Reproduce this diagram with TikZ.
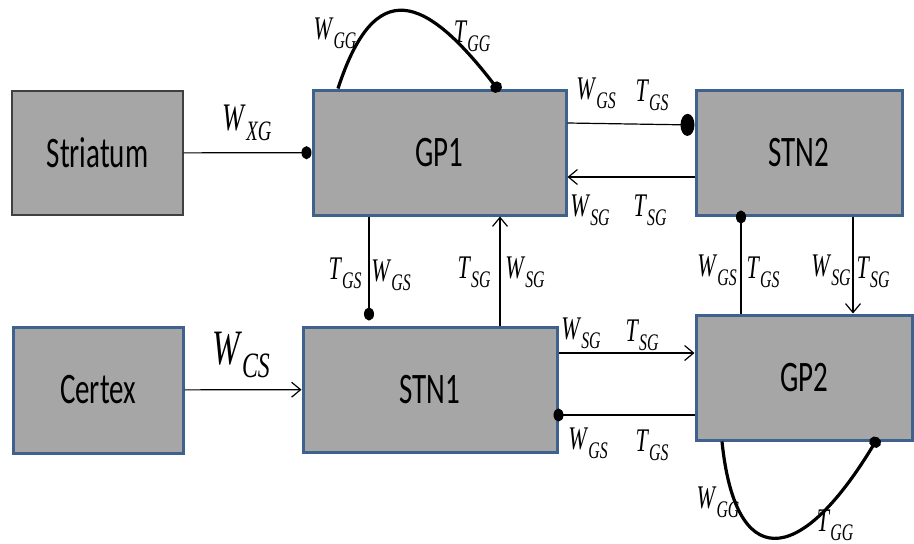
\documentclass[tikz,border=0pt]{standalone}
\usepackage{fontspec}
\setmainfont{Liberation Serif}
\newfontfamily\boxfont{Carlito}
\usetikzlibrary{arrows.meta}
\definecolor{boxgray}{RGB}{166,166,166}
\definecolor{boxblue}{RGB}{63,97,142}
\newcommand{\syn}[3][22]{\scalebox{1}[1.5]{\fontsize{#1}{#1}\selectfont\textit{#2}\raisebox{-0.27em}{\scalebox{0.72}{\textit{#3}}}}}
\newcommand{\boxtext}[1]{\scalebox{1}[1.5]{\fontsize{29}{29}\boxfont #1}}

\begin{document}
\begin{tikzpicture}[x=1pt,y=-1pt,
  area/.style={draw=boxblue,line width=3pt,fill=boxgray,inner sep=0pt},
  link/.style={line width=1.2pt},
  excite/.style={link,-{Straight Barb[length=9pt,width=15pt]}},
  inhib/.style={link,-{Ellipse[length=10pt,width=13pt]}},
  inhibup/.style={link,-{Ellipse[length=13pt,width=10pt]}},
  selfloop/.style={line width=3.2pt,-{Ellipse[length=11pt,width=12pt]}},
  lab/.style={inner sep=0pt}]
\useasboundingbox (0,0) rectangle (914,544);

\node[area,draw=black!75,line width=1.2pt,minimum width=171pt,minimum height=124pt] (striatum) at (97.5,153) {\boxtext{Striatum}};
\node[area,minimum width=253pt,minimum height=125pt] (gp1) at (439.5,152.5) {\boxtext{GP1}};
\node[area,minimum width=206pt,minimum height=125pt] (stn2) at (799,152.5) {\boxtext{STN2}};
\node[area,minimum width=170pt,minimum height=126pt] (certex) at (98,390) {\boxtext{Certex}};
\node[area,minimum width=254pt,minimum height=125pt] (stn1) at (430,389.5) {\boxtext{STN1}};
\node[area,minimum width=216pt,minimum height=125pt] (gp2) at (804,377.5) {\boxtext{GP2}};

\draw[inhib] (striatum) -- (gp1);
\draw[excite] (certex) -- (stn1);
\draw[link,-{Ellipse[length=14pt,width=22pt]}] ([yshift=29.5pt]gp1.east) -- ([yshift=27.5pt]stn2.west);
\draw[excite] ([yshift=-24.5pt]stn2.west) -- ([yshift=-24.5pt]gp1.east);
\draw[inhibup] ([xshift=-70.5pt]gp1.south) -- ([xshift=-61pt,yshift=5pt]stn1.north);
\draw[excite] ([xshift=70pt]stn1.north) -- ([xshift=60.5pt]gp1.south);
\draw[excite] ([yshift=36.5pt]stn1.east) -- ([yshift=24.5pt]gp2.west);
\draw[inhib] ([yshift=-37.5pt]gp2.west) -- ([xshift=-5pt,yshift=-25.5pt]stn1.east);
\draw[inhibup] ([xshift=-63pt]gp2.north) -- ([xshift=-58pt,yshift=6pt]stn2.south);
\draw[excite] ([xshift=54pt]stn2.south) -- ([xshift=49pt]gp2.north);
\draw[selfloop] ([xshift=-101.5pt]gp1.north) .. controls (375,-25) and (425,-5) .. ([xshift=60pt,yshift=-3pt]gp1.north);
\draw[selfloop] ([xshift=-82pt]gp2.south) .. controls (735,570) and (798,570) .. ([xshift=74pt,yshift=4pt]gp2.south);

\node[lab] (wxg) at (247,123) {\syn[26]{W}{XG}};
\node[lab] (wcs) at (241,355) {\syn[33]{W}{CS}};
\node[lab] (wgg1) at (335,33) {\syn{W}{GG}};
\node[lab] (tgg1) at (472,36) {\syn{T}{GG}};
\node[lab] (wgs1) at (596,93) {\syn{W}{GS}};
\node[lab] (tgs1) at (652,95) {\syn{T}{GS}};
\node[lab] (wsg1) at (590,210) {\syn{W}{SG}};
\node[lab] (tsg1) at (650,210) {\syn{T}{SG}};
\node[lab] (tgs2) at (345,273) {\syn{T}{GS}};
\node[lab] (wgs2) at (391,275) {\syn{W}{GS}};
\node[lab] (tsg2) at (474,272) {\syn{T}{SG}};
\node[lab] (wsg2) at (525,272) {\syn{W}{SG}};
\node[lab] (wgs3) at (717,270) {\syn{W}{GS}};
\node[lab] (tgs3) at (763,272) {\syn{T}{GS}};
\node[lab] (wsg3) at (831,270) {\syn{W}{SG}};
\node[lab] (tsg3) at (873,272) {\syn{T}{SG}};
\node[lab] (wsg4) at (581,333) {\syn{W}{SG}};
\node[lab] (tsg4) at (642,335) {\syn{T}{SG}};
\node[lab] (wgs4) at (588,443) {\syn{W}{GS}};
\node[lab] (tgs4) at (652,445) {\syn{T}{GS}};
\node[lab] (wgg2) at (718,502) {\syn{W}{GG}};
\node[lab] (tgg2) at (835,525) {\syn{T}{GG}};
\end{tikzpicture}
\end{document}
